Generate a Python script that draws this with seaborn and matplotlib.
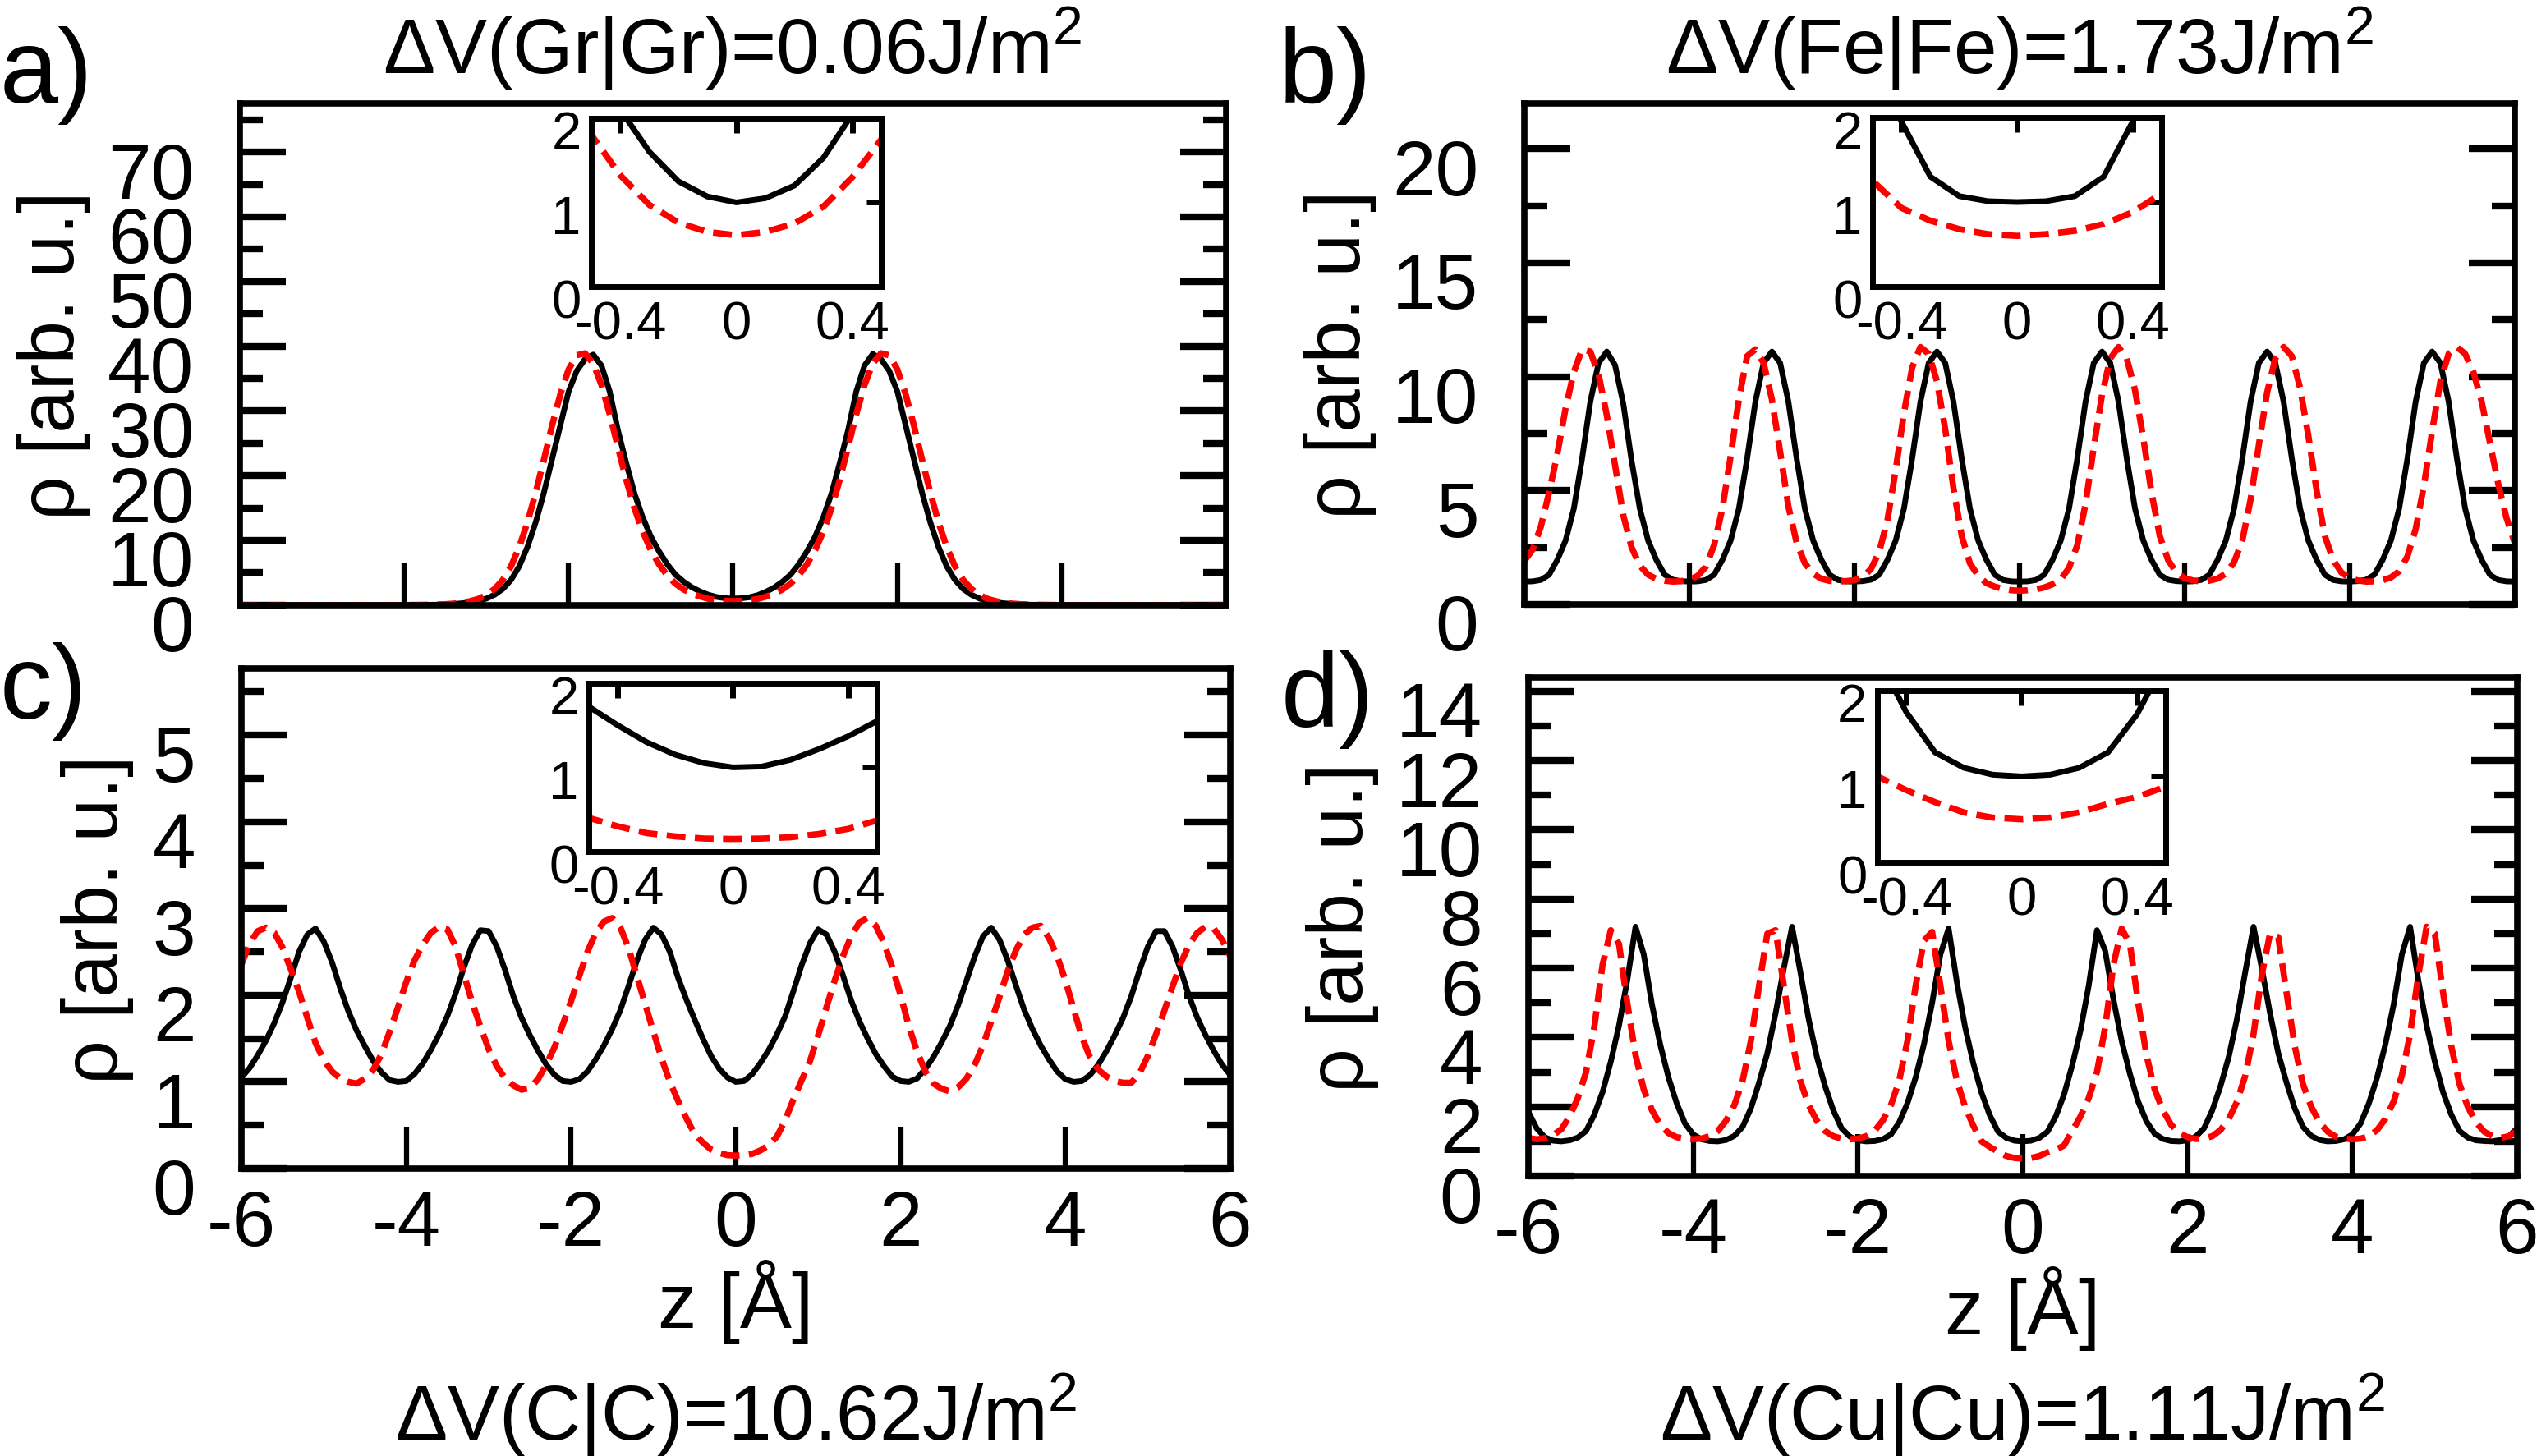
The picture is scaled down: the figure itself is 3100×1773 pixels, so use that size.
import numpy as np
import matplotlib
matplotlib.use("Agg")
import matplotlib.pyplot as plt
import matplotlib.transforms as mtransforms
import seaborn as sns

# z grid of the profiles [Angstrom], step 0.1
z = np.round(np.linspace(-6.0, 6.0, 121), 1)

# a) Gr|Gr
gr_black = [
    0.0, 0.0, 0.0, 0.0, 0.0, 0.0, 0.0, 0.0, 0.0, 0.0,
    0.0, 0.0, 0.0, 0.0, 0.0, 0.0, 0.0, 0.0, 0.0, 0.0,
    0.0, 0.01, 0.02, 0.04, 0.06, 0.10, 0.17, 0.27, 0.42, 0.65,
    1.0, 1.6, 2.5, 3.9, 6.0, 9.0, 12.8, 17.4, 22.6, 27.8,
    33.0, 36.2, 38.0, 38.7, 37.0, 33.0, 27.0, 22.0, 17.3, 13.6,
    10.6, 8.3, 6.3, 4.7, 3.6, 2.75, 2.1, 1.6, 1.25, 1.07,
    1.0, 1.05, 1.2, 1.53, 2.05, 2.7, 3.6, 4.7, 6.3, 8.3,
    10.6, 13.6, 17.3, 22.0, 27.0, 33.0, 37.0, 38.8, 38.0, 36.2,
    33.0, 27.8, 22.6, 17.4, 12.8, 9.0, 6.0, 3.9, 2.5, 1.6,
    1.0, 0.65, 0.42, 0.27, 0.17, 0.10, 0.06, 0.04, 0.02, 0.01,
    0.0, 0.0, 0.0, 0.0, 0.0, 0.0, 0.0, 0.0, 0.0, 0.0,
    0.0, 0.0, 0.0, 0.0, 0.0, 0.0, 0.0, 0.0, 0.0, 0.0,
    0.0]
gr_red = [
    0.0, 0.0, 0.0, 0.0, 0.0, 0.0, 0.0, 0.0, 0.0, 0.0,
    0.0, 0.0, 0.0, 0.0, 0.0, 0.0, 0.0, 0.0, 0.0, 0.0,
    0.01, 0.02, 0.03, 0.05, 0.08, 0.13, 0.22, 0.36, 0.6, 0.95,
    1.55, 2.5, 3.9, 6.0, 9.0, 12.8, 17.4, 22.5, 27.8, 32.6,
    36.4, 38.6, 38.9, 37.3, 34.0, 29.5, 24.4, 19.4, 15.0, 11.4,
    8.5, 6.3, 4.6, 3.3, 2.4, 1.8, 1.32, 0.97, 0.76, 0.65,
    0.61, 0.65, 0.75, 0.95, 1.3, 1.75, 2.4, 3.3, 4.6, 6.3,
    8.5, 11.4, 15.0, 19.4, 24.4, 29.5, 34.0, 37.3, 38.9, 38.6,
    36.4, 32.6, 27.8, 22.5, 17.4, 12.8, 9.0, 6.0, 3.9, 2.5,
    1.55, 0.95, 0.6, 0.36, 0.22, 0.13, 0.08, 0.05, 0.03, 0.02,
    0.01, 0.0, 0.0, 0.0, 0.0, 0.0, 0.0, 0.0, 0.0, 0.0,
    0.0, 0.0, 0.0, 0.0, 0.0, 0.0, 0.0, 0.0, 0.0, 0.0,
    0.0]

# b) Fe|Fe
fe_black = [
    1.0, 1.01, 1.07, 1.3, 1.95, 2.8, 4.2, 6.4, 8.9, 10.6,
    11.1, 10.5, 8.8, 6.3, 4.2, 2.8, 1.95, 1.3, 1.08, 1.02,
    1.0, 1.01, 1.07, 1.3, 1.95, 2.8, 4.2, 6.4, 8.9, 10.6,
    11.1, 10.6, 8.9, 6.4, 4.2, 2.8, 1.95, 1.3, 1.07, 1.01,
    1.0, 1.02, 1.08, 1.3, 1.95, 2.8, 4.2, 6.4, 8.9, 10.6,
    11.1, 10.6, 8.9, 6.4, 4.2, 2.8, 1.95, 1.3, 1.07, 1.01,
    1.0, 1.01, 1.07, 1.3, 1.95, 2.8, 4.2, 6.4, 8.9, 10.6,
    11.1, 10.6, 8.9, 6.4, 4.2, 2.8, 1.95, 1.3, 1.08, 1.02,
    1.0, 1.01, 1.07, 1.3, 1.95, 2.8, 4.2, 6.4, 8.9, 10.6,
    11.1, 10.6, 8.9, 6.4, 4.2, 2.8, 1.95, 1.3, 1.07, 1.01,
    1.0, 1.02, 1.08, 1.3, 1.95, 2.8, 4.2, 6.4, 8.9, 10.6,
    11.1, 10.6, 8.9, 6.4, 4.2, 2.8, 1.95, 1.3, 1.07, 1.01,
    1.0]
fe_red = [
    1.9, 2.4, 3.4, 4.9, 6.6, 8.6, 10.2, 11.2, 11.1, 10.1,
    8.3, 6.1, 3.9, 2.5, 1.7, 1.3, 1.12, 1.04, 1.0, 1.02,
    1.08, 1.25, 1.65, 2.6, 4.2, 6.5, 9.0, 10.9, 11.2, 10.6,
    9.0, 6.7, 4.3, 2.7, 1.8, 1.35, 1.12, 1.03, 1.0, 1.02,
    1.06, 1.2, 1.55, 2.3, 3.7, 5.9, 8.4, 10.4, 11.3, 11.0,
    9.8, 7.7, 5.1, 3.0, 1.8, 1.25, 0.93, 0.78, 0.68, 0.62,
    0.6, 0.62, 0.66, 0.74, 0.88, 1.1, 1.6, 2.6, 4.4, 6.9,
    9.2, 10.8, 11.3, 10.8, 9.4, 7.3, 4.9, 3.0, 1.95, 1.4,
    1.15, 1.05, 1.0, 1.04, 1.13, 1.35, 1.85, 2.8, 4.6, 7.0,
    9.3, 10.8, 11.3, 10.9, 9.5, 7.4, 5.0, 3.0, 1.95, 1.4,
    1.15, 1.05, 1.0, 1.01, 1.06, 1.18, 1.45, 2.1, 3.3, 5.2,
    7.6, 9.8, 11.0, 11.3, 11.0, 10.2, 8.9, 7.1, 5.3, 3.8,
    2.7]

# c) C|C
c_black = [
    1.05, 1.16, 1.31, 1.48, 1.68, 1.92, 2.2, 2.5, 2.7, 2.77,
    2.62, 2.38, 2.08, 1.81, 1.59, 1.41, 1.24, 1.11, 1.02, 1.0,
    1.01, 1.09, 1.21, 1.37, 1.55, 1.76, 2.02, 2.32, 2.58, 2.75,
    2.74, 2.56, 2.29, 1.99, 1.74, 1.54, 1.36, 1.2, 1.08, 1.01,
    1.0, 1.03, 1.12, 1.26, 1.42, 1.61, 1.83, 2.11, 2.4, 2.64,
    2.78, 2.7, 2.5, 2.2, 1.95, 1.72, 1.5, 1.3, 1.15, 1.05,
    1.0, 1.01, 1.09, 1.22, 1.37, 1.55, 1.76, 2.05, 2.35, 2.6,
    2.76, 2.7, 2.5, 2.23, 1.94, 1.7, 1.5, 1.32, 1.18, 1.06,
    1.01, 1.0, 1.04, 1.15, 1.29, 1.46, 1.65, 1.89, 2.17, 2.45,
    2.68, 2.78, 2.64, 2.4, 2.11, 1.83, 1.61, 1.42, 1.26, 1.12,
    1.03, 1.0, 1.01, 1.08, 1.2, 1.36, 1.54, 1.74, 1.99, 2.29,
    2.56, 2.74, 2.74, 2.56, 2.29, 1.99, 1.74, 1.54, 1.36, 1.2,
    1.08]
c_red = [
    2.35, 2.6, 2.74, 2.78, 2.72, 2.55, 2.3, 2.04, 1.74, 1.45,
    1.25, 1.12, 1.04, 1.0, 0.98, 1.04, 1.14, 1.32, 1.58, 1.86,
    2.15, 2.4, 2.58, 2.72, 2.79, 2.76, 2.56, 2.24, 1.92, 1.64,
    1.38, 1.18, 1.04, 0.96, 0.91, 0.93, 1.03, 1.2, 1.4, 1.66,
    1.93, 2.22, 2.5, 2.72, 2.85, 2.89, 2.78, 2.54, 2.22, 1.9,
    1.58, 1.27, 1.0, 0.78, 0.58, 0.4, 0.3, 0.22, 0.18, 0.155,
    0.15, 0.155, 0.17, 0.21, 0.27, 0.37, 0.56, 0.8, 1.02, 1.24,
    1.54, 1.86, 2.17, 2.45, 2.68, 2.84, 2.89, 2.8, 2.6, 2.32,
    2.0, 1.64, 1.35, 1.12, 0.98, 0.92, 0.89, 0.94, 1.04, 1.2,
    1.42, 1.7, 1.98, 2.28, 2.52, 2.7, 2.78, 2.8, 2.66, 2.45,
    2.17, 1.84, 1.52, 1.28, 1.14, 1.06, 1.01, 0.99, 0.99, 1.1,
    1.3, 1.55, 1.82, 2.1, 2.37, 2.58, 2.72, 2.79, 2.77, 2.64,
    2.45]

# d) Cu|Cu
cu_black = [
    1.85, 1.38, 1.12, 1.02, 1.0, 1.03, 1.11, 1.3, 1.77, 2.42,
    3.3, 4.35, 5.65, 7.2, 6.4, 4.95, 3.8, 2.85, 2.1, 1.52,
    1.2, 1.06, 1.01, 1.0, 1.04, 1.16, 1.42, 1.95, 2.7, 3.55,
    4.7, 6.0, 7.2, 5.9, 4.55, 3.45, 2.6, 1.9, 1.38, 1.14,
    1.03, 1.0, 1.01, 1.06, 1.2, 1.55, 2.1, 2.85, 3.8, 5.0,
    6.4, 7.15, 5.6, 4.3, 3.25, 2.4, 1.75, 1.28, 1.1, 1.02,
    1.0, 1.02, 1.1, 1.28, 1.72, 2.35, 3.2, 4.2, 5.5, 7.1,
    6.5, 5.1, 3.9, 2.95, 2.15, 1.58, 1.22, 1.07, 1.01, 1.0,
    1.03, 1.14, 1.38, 1.9, 2.6, 3.45, 4.55, 5.9, 7.2, 6.0,
    4.7, 3.55, 2.7, 1.95, 1.42, 1.16, 1.04, 1.0, 1.01, 1.06,
    1.2, 1.52, 2.1, 2.85, 3.8, 4.95, 6.4, 7.2, 5.65, 4.35,
    3.3, 2.42, 1.77, 1.3, 1.11, 1.03, 1.01, 1.0, 1.04, 1.15,
    1.38]
cu_red = [
    1.1, 1.06, 1.09, 1.18, 1.35, 1.72, 2.25, 3.0, 4.3, 6.1,
    7.1, 6.7, 5.0, 3.5, 2.5, 1.9, 1.48, 1.24, 1.12, 1.08,
    1.06, 1.08, 1.15, 1.3, 1.6, 2.05, 2.75, 3.9, 5.5, 7.0,
    7.1, 5.5, 3.9, 2.75, 2.05, 1.6, 1.3, 1.15, 1.08, 1.06,
    1.08, 1.15, 1.3, 1.6, 2.05, 2.75, 3.9, 5.5, 6.8, 7.05,
    5.5, 3.9, 2.75, 2.0, 1.45, 1.0, 0.84, 0.7, 0.58, 0.52,
    0.5, 0.52, 0.58, 0.68, 0.76, 0.88, 1.3, 1.72, 2.25, 3.0,
    4.3, 6.1, 7.15, 6.7, 5.0, 3.5, 2.5, 1.9, 1.48, 1.24,
    1.12, 1.07, 1.08, 1.15, 1.33, 1.65, 2.15, 2.9, 4.1, 5.8,
    7.0, 6.9, 5.3, 3.75, 2.65, 2.0, 1.55, 1.28, 1.13, 1.08,
    1.06, 1.08, 1.15, 1.33, 1.65, 2.15, 2.9, 4.1, 5.8, 7.2,
    7.0, 5.3, 3.75, 2.65, 2.0, 1.55, 1.28, 1.15, 1.1, 1.15,
    1.3]

titles = ["ΔV(Gr|Gr)=0.06J/m$^2$", "ΔV(Fe|Fe)=1.73J/m$^2$",
          "ΔV(C|C)=10.62J/m$^2$", "ΔV(Cu|Cu)=1.11J/m$^2$"]
letters = ["a)", "b)", "c)", "d)"]
yticks_gr = [0, 10, 20, 30, 40, 50, 60, 70]
yticks_fe = [0, 5, 10, 15, 20]
yticks_c = [0, 1, 2, 3, 4, 5]
yticks_cu = [0, 2, 4, 6, 8, 10, 12, 14]
xticks = [-6, -4, -2, 0, 2, 4, 6]
inset_xticks = [-0.4, 0, 0.4]
inset_xlabels = ["-0.4", "0", "0.4"]
inset_yticks = [0, 1, 2]

sns.set_style("white")
plt.rcParams["font.family"] = ["Liberation Sans", "DejaVu Sans"]
plt.rcParams["mathtext.fontset"] = "custom"
plt.rcParams["mathtext.rm"] = "Liberation Sans"
plt.rcParams["mathtext.default"] = "regular"
plt.rcParams["axes.unicode_minus"] = False
for k in ["axes.edgecolor", "xtick.color", "ytick.color", "text.color", "axes.labelcolor"]:
    plt.rcParams[k] = "black"

LW_BLACK = 5.0
LW_RED = 5.5
DASH = (0, (3.0, 1.5))

panels = [
    dict(black=gr_black, red=gr_red, yticks=yticks_gr, ymax=77.5, minor=5,
         rect=[0.0942, 0.5841, 0.3874, 0.3443], inset=[0.2323, 0.8027, 0.1139, 0.1156],
         ylab_x=-0.189, title_xy=(0.2877, 0.9494), letter_xy=(0.0, 0.9295), bottom=False),
    dict(black=fe_black, red=fe_red, yticks=yticks_fe, ymax=22, minor=2.5,
         rect=[0.5987, 0.5846, 0.3890, 0.3439], inset=[0.7355, 0.8027, 0.1135, 0.1161],
         ylab_x=-0.186, title_xy=(0.7932, 0.9494), letter_xy=(0.5023, 0.9295), bottom=False),
    dict(black=c_black, red=c_red, yticks=yticks_c, ymax=5.77, minor=0.5,
         rect=[0.0948, 0.1973, 0.3884, 0.3433], inset=[0.2313, 0.4149, 0.1132, 0.1156],
         ylab_x=-0.146, title_xy=(0.2890, 0.0116), letter_xy=(0.0, 0.5068), bottom=True),
    dict(black=cu_black, red=cu_red, yticks=yticks_cu, ymax=14.4, minor=1,
         rect=[0.6003, 0.1922, 0.3884, 0.3422], inset=[0.7374, 0.4076, 0.1132, 0.1178],
         ylab_x=-0.188, title_xy=(0.7945, 0.0116), letter_xy=(0.5030, 0.5011), bottom=True),
]

fig = plt.figure(figsize=(31, 17.74), dpi=100)


def shift_ylabels(ax, px):
    off = mtransforms.ScaledTranslation(0, -px / 100.0, fig.dpi_scale_trans)
    for t in ax.yaxis.get_major_ticks():
        t.label1.set_transform(t.label1.get_transform() + off)


def draw_curves(ax, black, red):
    sns.lineplot(x=z, y=black, ax=ax, color="black", lw=LW_BLACK, estimator=None, errorbar=None)
    sns.lineplot(x=z, y=red, ax=ax, color="red", lw=LW_RED, linestyle=DASH,
                 estimator=None, errorbar=None)
    ax.set_xlabel("")
    ax.set_ylabel("")


for i, p in enumerate(panels):
    assert len(p["black"]) == len(z) and len(p["red"]) == len(z)
    ax = fig.add_axes(p["rect"])
    draw_curves(ax, p["black"], p["red"])
    ax.set_xlim(-6, 6)
    ax.set_ylim(0, p["ymax"])
    ax.set_xticks(xticks)
    ax.set_yticks(p["yticks"])
    ax.yaxis.set_minor_locator(matplotlib.ticker.MultipleLocator(p["minor"]))
    ax.tick_params(axis="y", which="both", direction="in", left=True, right=True,
                   width=6, labelsize=68)
    ax.tick_params(axis="y", which="major", length=40, pad=40)
    ax.tick_params(axis="y", which="minor", length=20)
    ax.tick_params(axis="x", which="major", direction="in", bottom=True, top=False,
                   length=37, width=4.5, pad=17, labelsize=68, labelbottom=p["bottom"])
    for s in ax.spines.values():
        s.set_linewidth(5.5)
        s.set_color("black")
    shift_ylabels(ax, 21)
    ax.set_ylabel("ρ [arb. u.]", fontsize=68, va="center")
    ax.yaxis.set_label_coords(p["ylab_x"], 0.5)
    if p["bottom"]:
        ax.set_xlabel("z [Å]", fontsize=68, va="baseline")
        ax.xaxis.set_label_coords(0.5, -0.317)

    ins = fig.add_axes(p["inset"])
    ins.set_facecolor("white")
    draw_curves(ins, p["black"], p["red"])
    ins.set_xlim(-0.5, 0.5)
    ins.set_ylim(0, 2)
    ins.set_xticks(inset_xticks)
    ins.set_xticklabels(inset_xlabels)
    ins.set_yticks(inset_yticks)
    ins.tick_params(direction="in", top=True, right=True, length=13, width=5, labelsize=47)
    ins.tick_params(axis="x", pad=12)
    ins.tick_params(axis="y", pad=9)
    for s in ins.spines.values():
        s.set_linewidth(5)
        s.set_color("black")
    shift_ylabels(ins, 14)

    fig.text(p["title_xy"][0], p["title_xy"][1], titles[i], fontsize=68,
             ha="center", va="baseline")
    fig.text(p["letter_xy"][0], p["letter_xy"][1], letters[i], fontsize=92,
             ha="left", va="baseline")

fig.savefig("out.png", dpi=100, facecolor="white")
